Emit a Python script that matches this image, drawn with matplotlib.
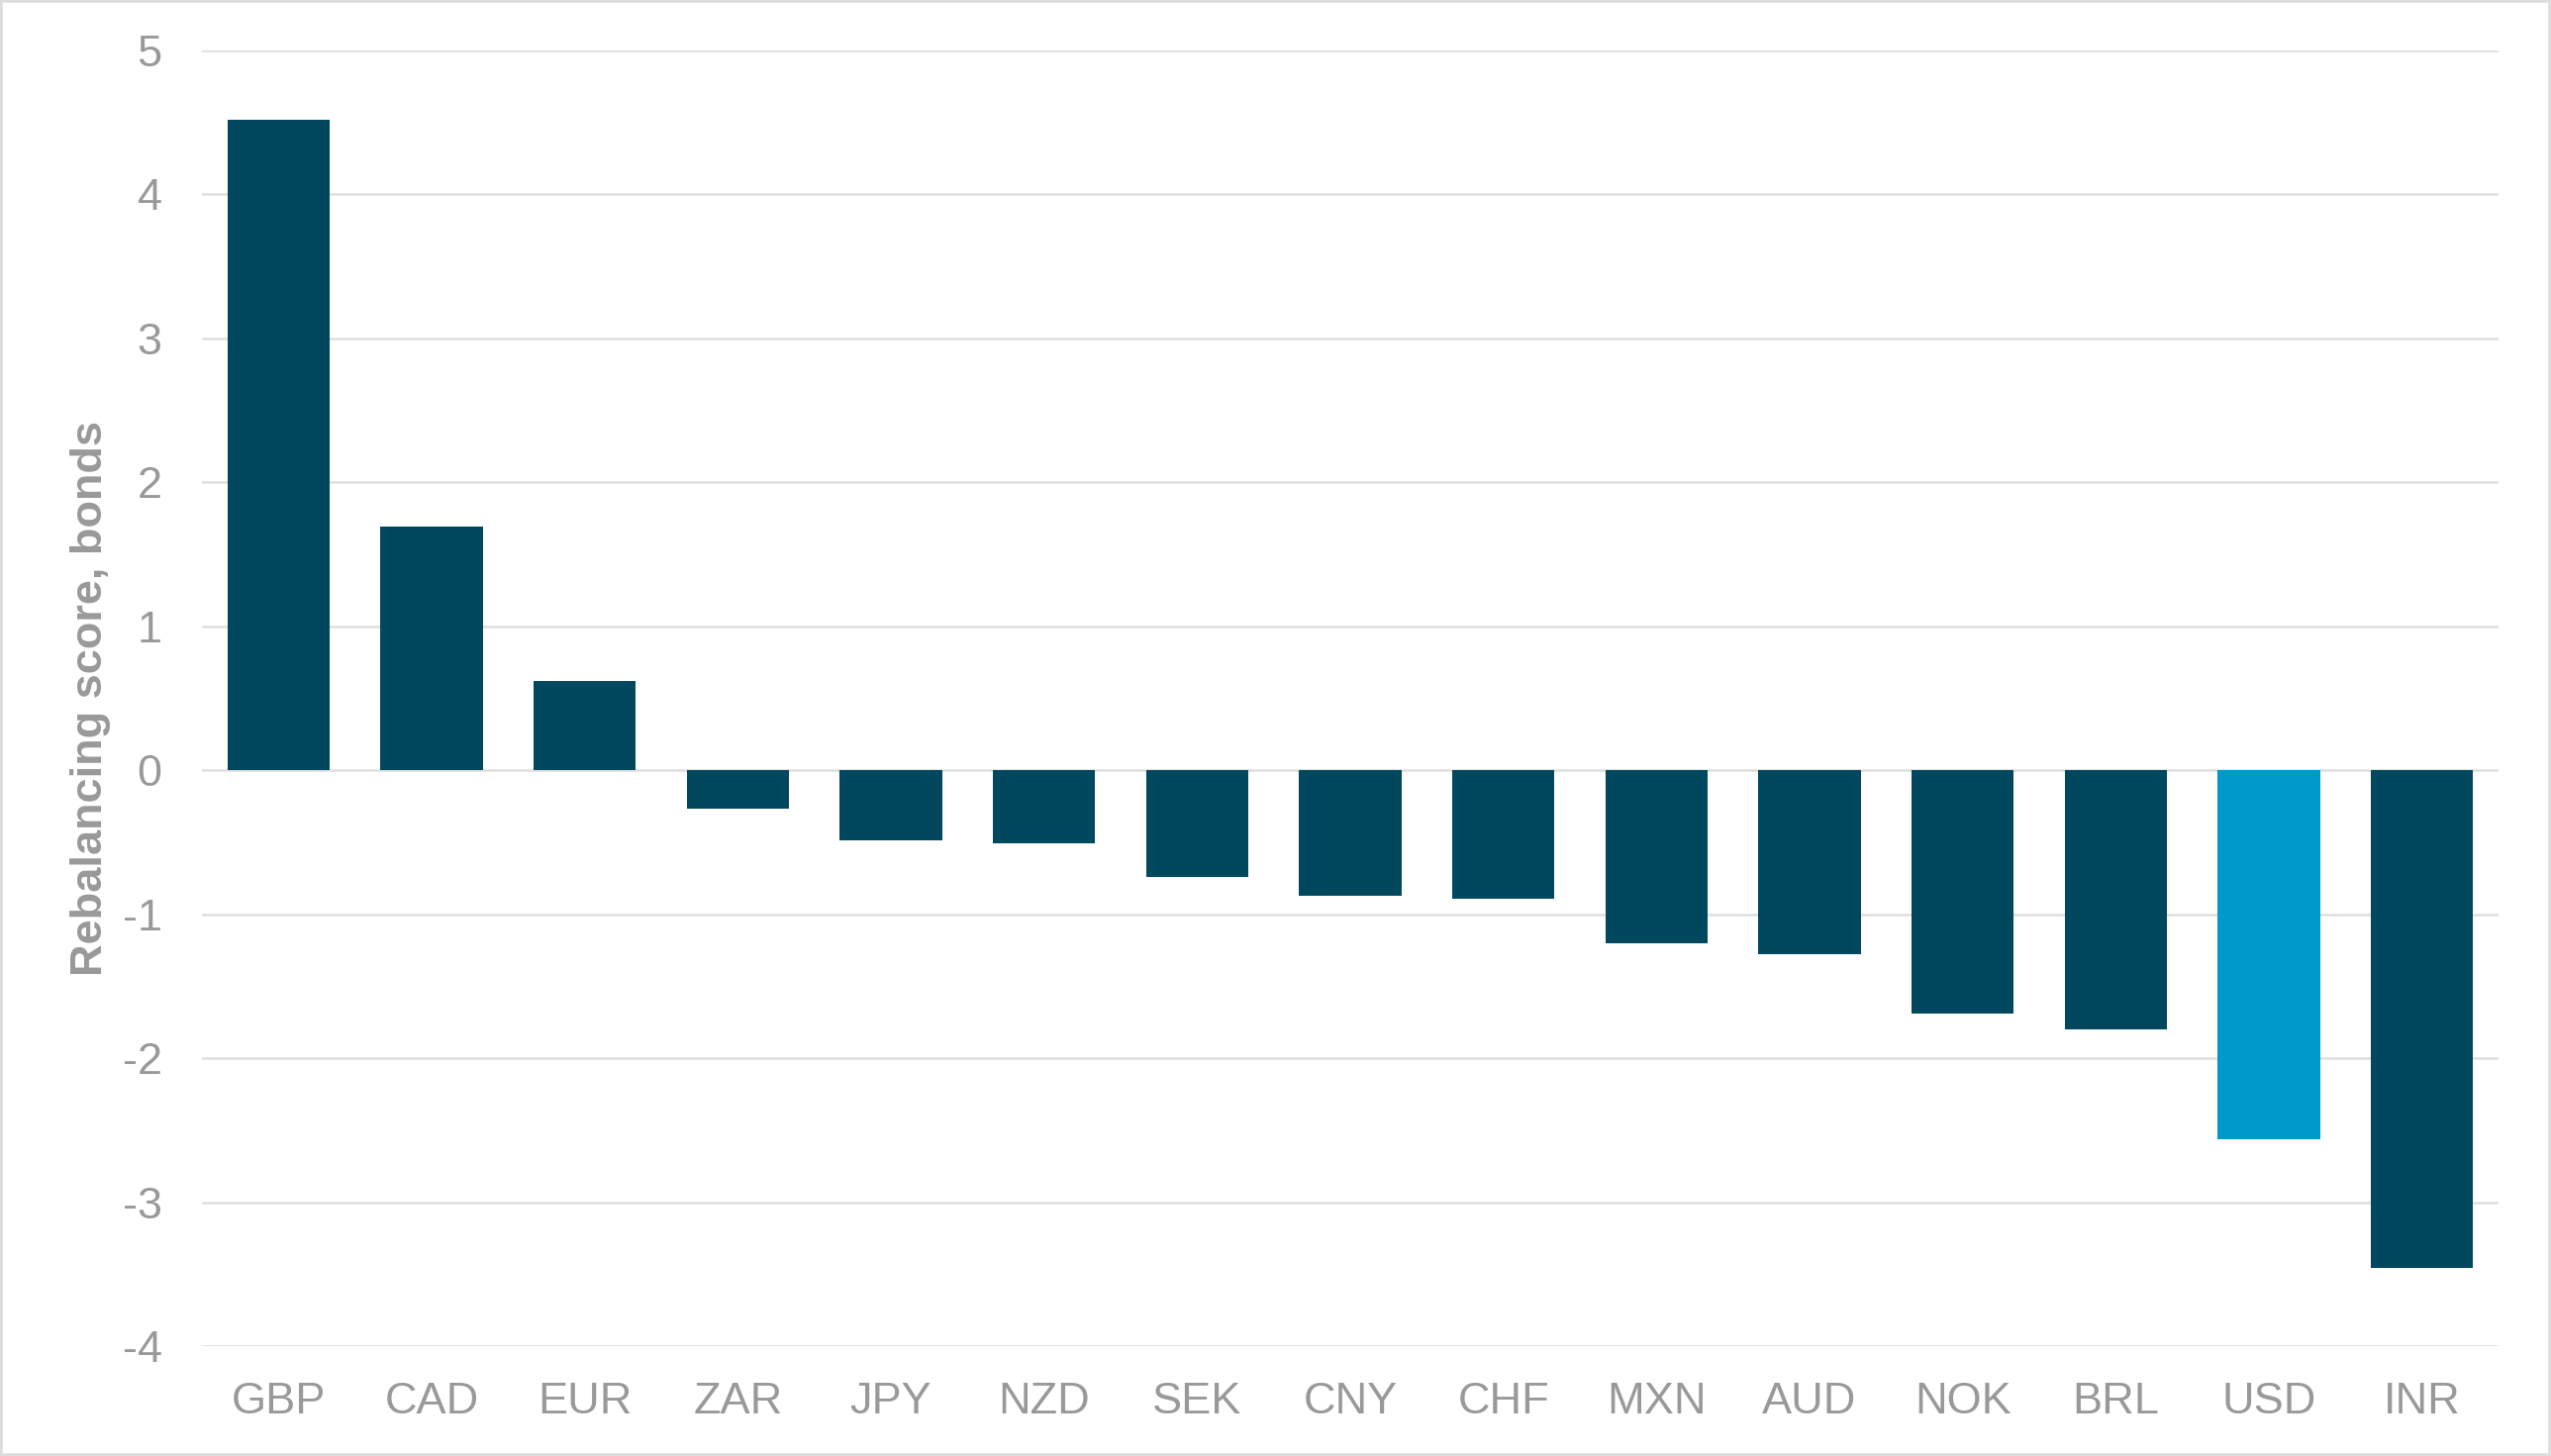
import matplotlib.pyplot as plt
from matplotlib.patches import Rectangle

# Rebalancing scores
currencies = ['GBP', 'CAD', 'EUR', 'ZAR', 'JPY', 'NZD', 'SEK', 'CNY',
              'CHF', 'MXN', 'AUD', 'NOK', 'BRL', 'USD', 'INR']
scores = [4.52, 1.69, 0.62, -0.27, -0.49, -0.51, -0.74, -0.87,
          -0.89, -1.20, -1.28, -1.69, -1.80, -2.56, -3.46]
highlight = ['USD']
y_ticks = [5, 4, 3, 2, 1, 0, -1, -2, -3, -4]

DARK = '#01485E'
LIGHT = '#0099CC'
GREY = '#999999'

plt.rcParams['font.family'] = ['Liberation Sans', 'DejaVu Sans']

W, H = 2577, 1471
fig = plt.figure(figsize=(W / 100, H / 100), dpi=100)
ax = fig.add_axes([204 / W, 1 - 1360 / H, (2524 - 204) / W, (1360 - 51) / H])

colors = [LIGHT if c in highlight else DARK for c in currencies]
ax.bar(range(len(currencies)), scores, width=0.667, color=colors, zorder=3)

ax.set_xlim(-0.5, len(currencies) - 0.5)
ax.set_ylim(-4, 5)
ax.set_yticks(y_ticks)
ax.set_yticklabels([str(t) for t in y_ticks])
ax.set_xticks(range(len(currencies)))
ax.set_xticklabels(currencies)

ax.grid(axis='y', color='#dedede', linewidth=1.8, zorder=0)
for s in ax.spines.values():
    s.set_visible(False)
ax.tick_params(axis='both', length=0, labelsize=32.5, labelcolor=GREY)
ax.tick_params(axis='x', pad=26)
ax.tick_params(axis='y', pad=29)

ax.set_ylabel('Rebalancing score, bonds', fontsize=32.5, fontweight='bold',
              color=GREY, labelpad=8)

# thin light-grey frame around the whole picture
fig.patches.append(Rectangle((0, 0), 1, 1, transform=fig.transFigure,
                             fill=False, edgecolor='#dcdcdc', linewidth=4))

fig.savefig('out.png', dpi=100, facecolor='white')
